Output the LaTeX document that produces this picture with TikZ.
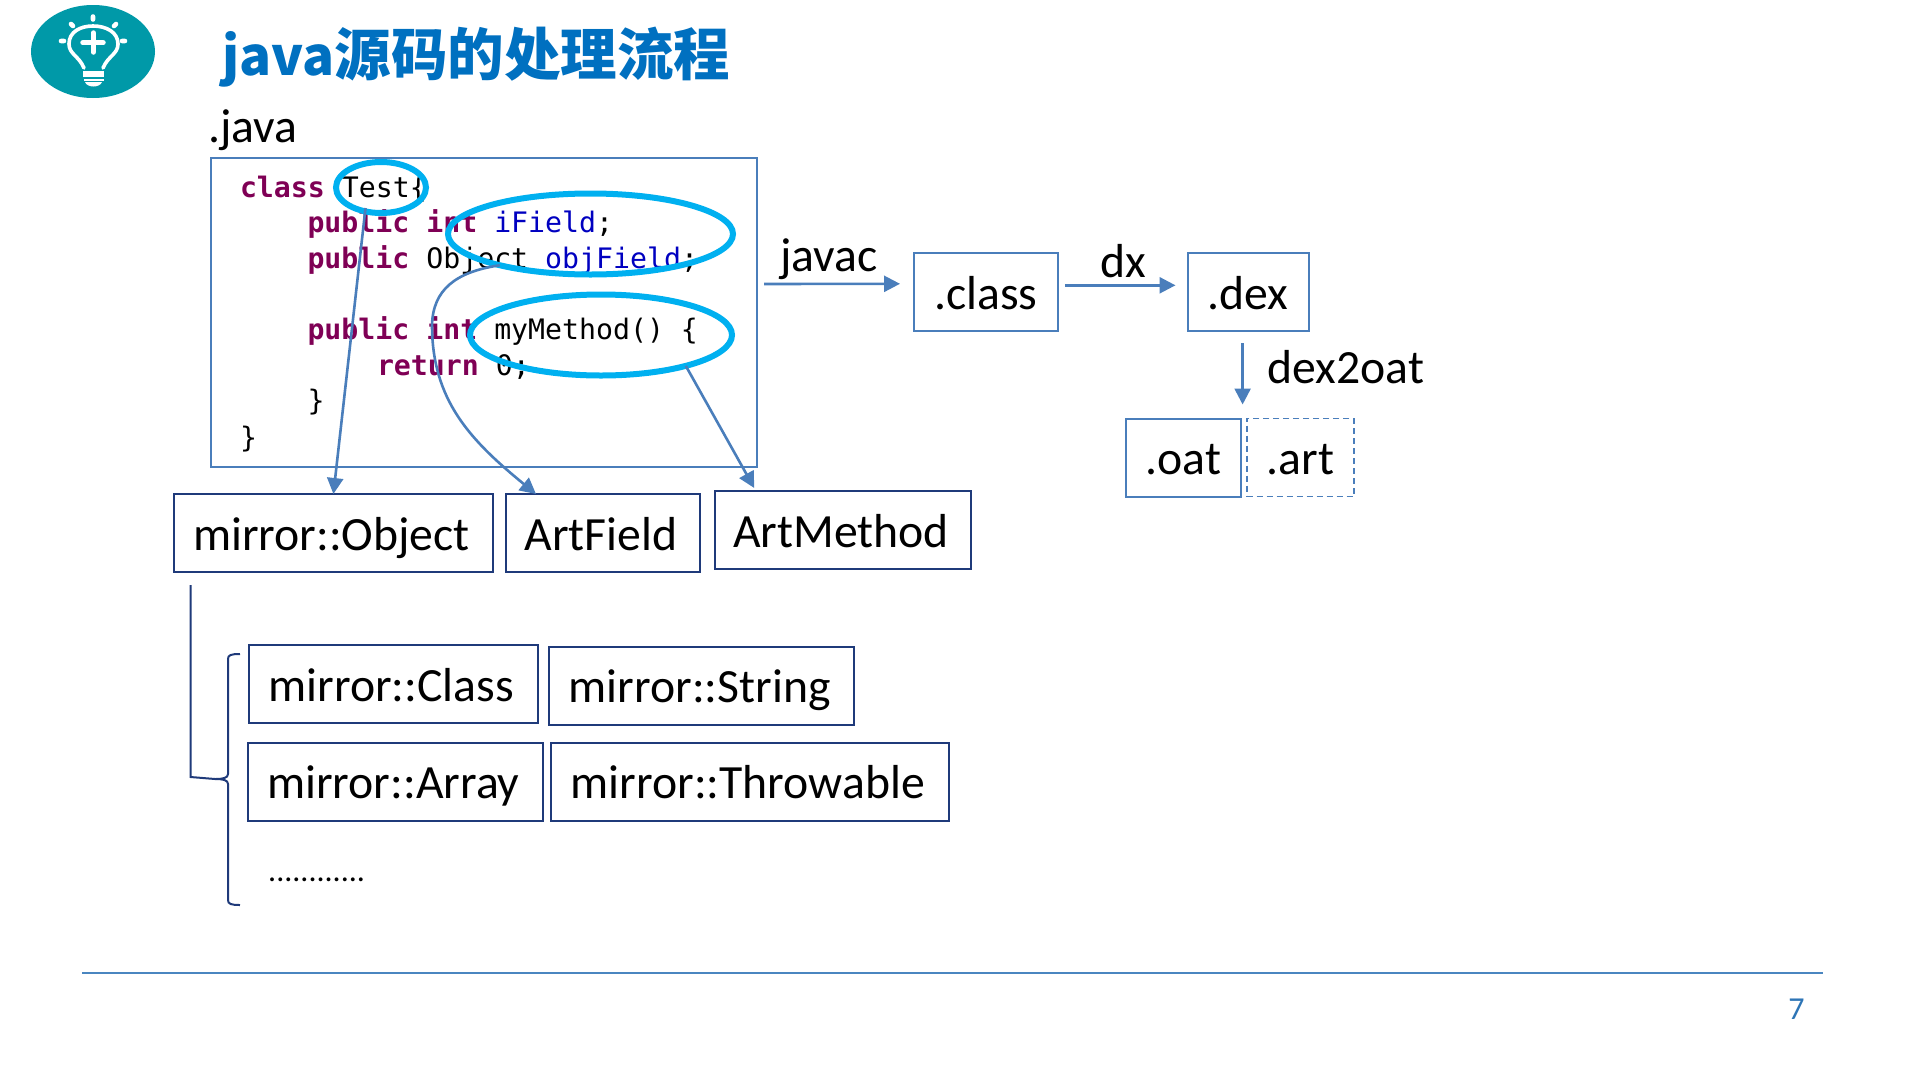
\documentclass[tikz,border=0pt]{standalone}
\usepackage{fontspec}
\setmainfont{Carlito}
\newfontfamily\cjkfont{Noto Sans CJK SC}
\newfontfamily\codefont{DejaVu Sans Mono}
\usetikzlibrary{shapes.geometric,arrows.meta}
\definecolor{teal1}{HTML}{0099A8}
\definecolor{titleblue}{HTML}{0070C0}
\definecolor{linkblue}{HTML}{4A7EBB}
\definecolor{navy1}{HTML}{1F3A7A}
\definecolor{cyan1}{HTML}{00B0F0}
\definecolor{kw}{HTML}{7F0055}
\definecolor{fld}{HTML}{0000C0}
\definecolor{rule1}{HTML}{4A86C0}
\definecolor{pageblue}{HTML}{2E75B6}
\newcommand{\kwd}[1]{\textcolor{kw}{\bfseries #1}}
\tikzset{
  lbl/.style={inner sep=0pt,outer sep=0pt,anchor=base west,font=\fontsize{47.7}{56}\selectfont},
  code/.style={inner sep=0pt,outer sep=0pt,anchor=base west,font=\codefont\fontsize{28.2}{34}\selectfont},
  boxbase/.style={rectangle,inner sep=0pt,outer sep=0pt,text height=56pt,text depth=22pt,font=\fontsize{47.7}{56}\selectfont},
  navybox/.style={boxbase,draw=navy1,line width=2pt,execute at end node={\kern4pt}},
  bluebox/.style={boxbase,draw=linkblue,line width=2pt},
  dashbox/.style={boxbase,draw=linkblue,line width=1.8pt,dash pattern=on 6pt off 4pt},
  ring/.style={ellipse,draw=cyan1,line width=6pt,inner sep=0pt,outer sep=0pt},
  link/.style={draw=linkblue,line width=2.6pt,-{Triangle[length=16pt,width=16pt]}},
  thin1/.style={draw=navy1,line width=2pt},
  bulb/.style={draw=white,line width=3.6pt,line cap=round,line join=round}
}
\begin{document}
\begin{tikzpicture}[x=1pt,y=-1pt]
\useasboundingbox (0,0) rectangle (1919,1079);
% logo
\fill[teal1] (93,51.5) ellipse [x radius=62,y radius=46.5];
\draw[bulb] (84,68) .. controls (79,56) and (69,54) .. (69,44) .. controls (69,32) and (80,26) .. (93,26) .. controls (106,26) and (118,32) .. (118,44) .. controls (118,54) and (108,56) .. (103,68);
\draw[bulb,line width=5.5pt] (93.3,33) -- (93.3,52) (83,42.7) -- (103,42.7);
\draw[bulb,line width=4.6pt] (93,16.5) -- (93,19.5) (71,24) -- (73,26) (116,24) -- (114,26) (61,41) -- (64,41) (122,41) -- (125,41);
\fill[white] (83,71) rectangle (104,77);
\fill[white] (83.5,79) rectangle (103.5,81);
\fill[white] (85,82) .. controls (87,88) and (100,88) .. (102,82) -- cycle;
% title
\node[inner sep=0pt,anchor=base west,text=titleblue,font=\cjkfont\bfseries\fontsize{53}{60}\selectfont] (title) at (222,75) {java\fontsize{56.5}{60}\selectfont 源码的处理流程};
% java label
\node[lbl] (javalbl) at (208,142) {.java};
% source box
\node[rectangle,draw=linkblue,line width=2pt,inner sep=0pt,outer sep=0pt,minimum width=546pt,minimum height=309pt] (srcbox) at (483.5,312.5) {};
% code
\node[code] (c1) at (240,197) {\kwd{class} Test\{};
\node[code] (c2) at (307.5,232.5) {\kwd{public int} \textcolor{fld}{iField};};
\node[code] (c3) at (307.5,268) {\kwd{public} Object \textcolor{fld}{objField};};
\node[code] (c4) at (307.5,339) {\kwd{public int} myMethod() \{};
\node[code] (c5) at (377,375) {\kwd{return} 0;};
\node[code] (c6) at (307.5,410) {\}};
\node[code] (c7) at (240,447) {\}};
% rings
\node[ring,minimum width=90pt,minimum height=51pt] (test) at (381,187.5) {};
\node[ring,minimum width=285pt,minimum height=81pt] (field) at (590.5,234) {};
\node[ring,minimum width=262pt,minimum height=81pt] (method) at (601,335) {};
% boxes
\node[navybox,minimum width=318.3pt] (mobj) at (333.4,533) {mirror::Object};
\node[navybox,minimum width=194pt] (afield) at (603,533) {ArtField};
\node[navybox,minimum width=256.7pt] (amethod) at (843.1,530) {ArtMethod};
\node[navybox,minimum width=288.5pt] (mclass) at (393.3,684) {mirror::Class};
\node[navybox,minimum width=305.2pt] (mstring) at (701.7,685.5) {mirror::String};
\node[navybox,minimum width=294.5pt] (marray) at (395.3,781.5) {mirror::Array};
\node[navybox,minimum width=398.5pt] (mthrow) at (749.8,781.5) {mirror::Throwable};
\node[inner sep=0pt,anchor=base west,font=\fontsize{32}{36}\selectfont] (dots) at (268,881) {............};
\node[bluebox,minimum width=144.2pt] (cls) at (985.7,292) {.class};
\node[bluebox,minimum width=121pt] (dex) at (1248,292) {.dex};
\node[bluebox,minimum width=115.4pt] (oat) at (1183.3,457.5) {.oat};
\node[dashbox,minimum width=107.4pt] (art) at (1300.3,457.5) {.art};
% process labels
\node[lbl] (javac) at (780,271.5) {javac};
\node[lbl] (dx) at (1100.6,277.5) {dx};
\node[lbl] (d2o) at (1267.6,383.5) {dex2oat};
% connectors
\coordinate (javacstart) at (764,284);
\coordinate (bend) at (432,325);
\path[link] ([xshift=-15.5pt,yshift=5pt]test.south) -- (mobj.north);
\path[link] (field.199) .. controls (455,272) and (433,290) .. (bend) .. controls (432,400) and (470,440) .. ([xshift=30pt]afield.north west);
\path[link] (method.-20) -- ([xshift=39.5pt,yshift=3pt]amethod.north west);
\path[link] (javacstart) -- ([xshift=-13.6pt,yshift=8.2pt]cls.west);
\path[link] ([xshift=7pt,yshift=6.7pt]cls.east) -- ([xshift=-12pt,yshift=6.7pt]dex.west);
\path[link] ([xshift=-5.4pt,yshift=-12pt]dex.south) -- ([xshift=1.6pt,yshift=14pt]oat.north east);
% tree
\coordinate (treestart) at (190.5,585);
\coordinate (treemid) at (190.5,777);
\coordinate (bracetip) at (215,779);
\draw[thin1] (treestart) -- (treemid) -- (bracetip);
\draw[thin1] (240,654) .. controls (231,654) and (228,655) .. (228,659) -- (228,774) .. controls (228,778) and (223,779) .. (bracetip) .. controls (223,779) and (228,780) .. (228,784) -- (228,900) .. controls (228,904) and (231,905) .. (240,905);
% footer
\coordinate (ruleL) at (82,973);
\coordinate (ruleR) at (1823,973);
\draw[draw=rule1,line width=1.8pt] (ruleL) -- (ruleR);
\node[inner sep=0pt,anchor=base,text=pageblue,font=\fontsize{32}{36}\selectfont] (pg) at (1796.5,1019) {7};
\end{tikzpicture}
\end{document}
